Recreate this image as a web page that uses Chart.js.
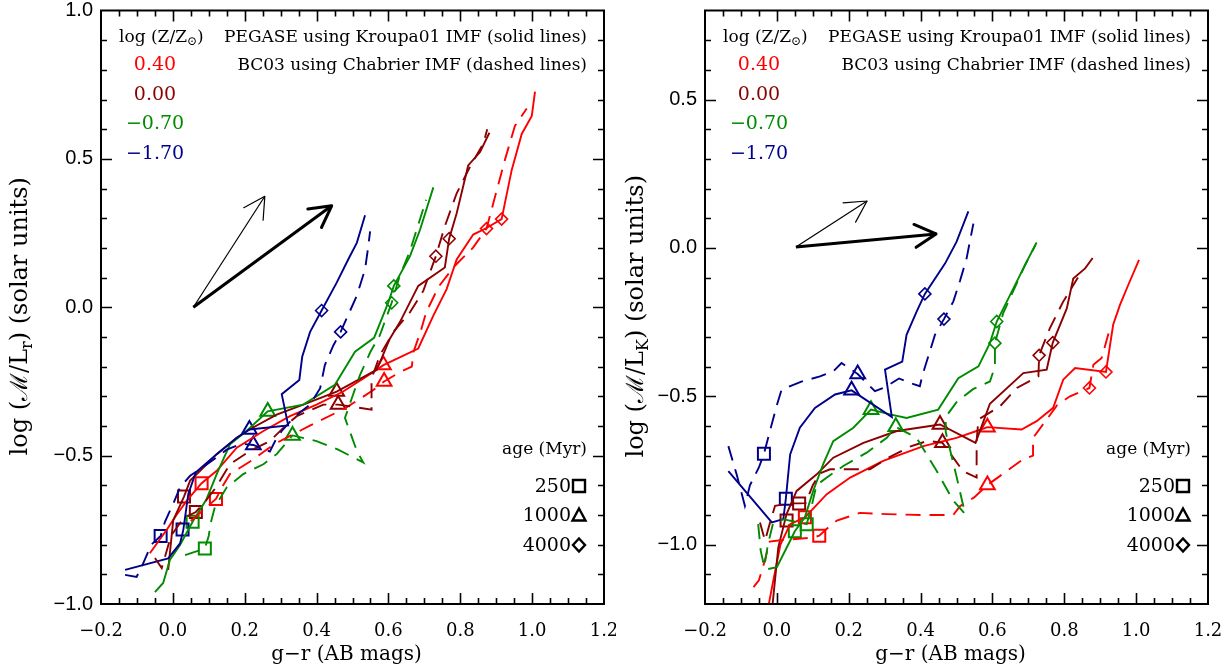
<!DOCTYPE html>
<html><head><meta charset="utf-8">
<script src="https://cdn.jsdelivr.net/npm/chart.js@4.4.1/dist/chart.umd.min.js"></script>
<style>
html,body{margin:0;padding:0;background:#fff;}
#wrap{position:relative;width:1232px;height:668px;overflow:hidden;}
canvas{position:absolute;top:0;}
</style></head><body>
<div id="wrap"><canvas id="cL" width="616" height="668" style="left:0"></canvas><canvas id="cR" width="616" height="668" style="left:616px"></canvas></div>
<script>
// ---------- tick labels / categories ----------
const xTicks  = [-0.2, 0.0, 0.2, 0.4, 0.6, 0.8, 1.0, 1.2];
const yTicksL = [-1.0, -0.5, 0.0, 0.5, 1.0];
const yTicksR = [-1.0, -0.5, 0.0, 0.5];
const metallicities = ['0.40', '0.00', '\u22120.70', '\u22121.70'];
const ageLabels = ['250', '1000', '4000'];

// ---------- LEFT panel: log(M/L_r) vs g-r ----------
const L_red_solid = [[-0.064,-0.829],[-0.017,-0.75],[0.01,-0.70],[0.04,-0.65],[0.080,-0.593],[0.122,-0.551],[0.178,-0.473],[0.252,-0.417],[0.326,-0.367],[0.400,-0.328],[0.474,-0.284],[0.567,-0.211],[0.586,-0.195],[0.683,-0.139],[0.725,-0.028],[0.762,0.061],[0.790,0.161],[0.836,0.245],[0.873,0.267],[0.915,0.297],[0.943,0.462],[0.971,0.584],[0.999,0.645],[1.008,0.727]];
const L_red_dash = [[0.05,-0.72],[0.120,-0.646],[0.14,-0.60],[0.159,-0.562],[0.215,-0.52],[0.284,-0.46],[0.38,-0.40],[0.48,-0.34],[0.557,-0.28],[0.588,-0.25],[0.63,-0.22],[0.665,-0.20],[0.67,-0.15],[0.69,-0.08],[0.705,-0.017],[0.74,0.07],[0.785,0.14],[0.835,0.20],[0.873,0.265],[0.897,0.374],[0.925,0.50],[0.952,0.611],[0.985,0.67]];
const L_dred_solid = [[-0.013,-0.885],[0.001,-0.718],[0.031,-0.638],[0.048,-0.584],[0.076,-0.551],[0.122,-0.495],[0.178,-0.440],[0.213,-0.412],[0.289,-0.362],[0.363,-0.328],[0.456,-0.284],[0.567,-0.211],[0.581,-0.172],[0.604,-0.106],[0.632,-0.05],[0.683,0.072],[0.757,0.134],[0.769,0.231],[0.79,0.317],[0.822,0.478],[0.855,0.523],[0.881,0.588]];
const L_dred_dash = [[-0.050,-0.845],[-0.031,-0.879],[-0.005,-0.77],[0.03,-0.71],[0.064,-0.690],[0.09,-0.655],[0.117,-0.612],[0.159,-0.529],[0.215,-0.484],[0.270,-0.451],[0.317,-0.395],[0.345,-0.367],[0.419,-0.328],[0.460,-0.328],[0.50,-0.335],[0.553,-0.345],[0.553,-0.24],[0.577,-0.16],[0.614,-0.083],[0.660,-0.017],[0.697,0.055],[0.732,0.172],[0.757,0.273],[0.790,0.384],[0.827,0.473],[0.864,0.551],[0.875,0.60]];
const L_green_solid = [[-0.050,-0.960],[-0.027,-0.929],[-0.008,-0.851],[0.020,-0.801],[0.055,-0.723],[0.094,-0.646],[0.122,-0.562],[0.159,-0.462],[0.205,-0.417],[0.264,-0.351],[0.363,-0.328],[0.451,-0.261],[0.507,-0.150],[0.560,-0.103],[0.600,0.017],[0.615,0.072],[0.660,0.172],[0.688,0.261],[0.725,0.404]];
const L_green_dash = [[0.034,-0.835],[0.089,-0.813],[0.100,-0.77],[0.105,-0.729],[0.117,-0.673],[0.150,-0.607],[0.196,-0.562],[0.252,-0.529],[0.289,-0.495],[0.333,-0.432],[0.400,-0.451],[0.46,-0.48],[0.530,-0.523],[0.512,-0.484],[0.479,-0.373],[0.50,-0.30],[0.521,-0.228],[0.55,-0.15],[0.576,-0.095],[0.609,0.015],[0.63,0.10],[0.66,0.19],[0.705,0.362]];
const L_blue_solid = [[-0.133,-0.885],[-0.013,-0.846],[0.020,-0.796],[0.029,-0.751],[0.043,-0.629],[0.064,-0.556],[0.122,-0.495],[0.178,-0.440],[0.213,-0.412],[0.321,-0.398],[0.303,-0.293],[0.352,-0.245],[0.360,-0.167],[0.382,-0.083],[0.414,-0.011],[0.456,0.083],[0.488,0.161],[0.512,0.217],[0.535,0.31]];
const L_blue_dash = [[-0.133,-0.902],[-0.101,-0.909],[-0.085,-0.87],[-0.06,-0.80],[-0.034,-0.771],[-0.022,-0.723],[0.001,-0.662],[0.020,-0.607],[0.048,-0.568],[0.10,-0.525],[0.15,-0.48],[0.19,-0.46],[0.224,-0.464],[0.270,-0.486],[0.285,-0.45],[0.303,-0.417],[0.335,-0.373],[0.382,-0.328],[0.410,-0.273],[0.423,-0.195],[0.447,-0.128],[0.467,-0.083],[0.512,0.039],[0.535,0.128],[0.544,0.206],[0.549,0.256]];
// age markers (250, 1000, 4000 Myr)
const L_red_solid_age  = [[0.080,-0.593],[0.586,-0.195],[0.915,0.297]];
const L_red_dash_age   = [[0.120,-0.646],[0.588,-0.250],[0.873,0.265]];
const L_dred_solid_age = [[0.031,-0.638],[0.456,-0.284],[0.769,0.231]];
const L_dred_dash_age  = [[0.064,-0.690],[0.460,-0.328],[0.732,0.172]];
const L_green_solid_age= [[0.055,-0.723],[0.264,-0.351],[0.615,0.072]];
const L_green_dash_age = [[0.089,-0.813],[0.333,-0.432],[0.609,0.015]];
const L_blue_solid_age = [[0.027,-0.749],[0.213,-0.412],[0.414,-0.011]];
const L_blue_dash_age  = [[-0.034,-0.771],[0.224,-0.464],[0.467,-0.083]];
const L_vec_thin  = [[0.057,0.0],[0.256,0.374]];
const L_vec_thick = [[0.057,0.0],[0.442,0.342]];

// ---------- RIGHT panel: log(M/L_K) vs g-r ----------
const R_red_solid = [[-0.03,-1.25],[-0.010,-1.121],[0.01,-1.0],[0.037,-0.931],[0.078,-0.908],[0.139,-0.830],[0.204,-0.774],[0.296,-0.718],[0.408,-0.668],[0.500,-0.640],[0.556,-0.617],[0.586,-0.604],[0.681,-0.612],[0.723,-0.584],[0.769,-0.539],[0.797,-0.444],[0.830,-0.405],[0.916,-0.418],[0.936,-0.259],[0.955,-0.192],[0.978,-0.125],[1.008,-0.04]];
const R_red_dash = [[-0.065,-1.143],[-0.05,-1.12],[-0.035,-1.06],[-0.02,-0.99],[0.01,-0.985],[0.10,-0.976],[0.118,-0.970],[0.145,-0.94],[0.167,-0.919],[0.231,-0.893],[0.306,-0.897],[0.40,-0.90],[0.491,-0.900],[0.51,-0.87],[0.55,-0.84],[0.586,-0.799],[0.64,-0.752],[0.686,-0.712],[0.713,-0.70],[0.713,-0.64],[0.75,-0.58],[0.78,-0.53],[0.816,-0.50],[0.870,-0.472],[0.881,-0.394],[0.904,-0.371],[0.925,-0.28]];
const R_dred_solid = [[-0.016,-1.25],[0.004,-1.009],[0.027,-0.897],[0.055,-0.819],[0.111,-0.763],[0.157,-0.707],[0.241,-0.657],[0.334,-0.617],[0.454,-0.595],[0.553,-0.657],[0.593,-0.525],[0.686,-0.422],[0.751,-0.410],[0.768,-0.319],[0.807,-0.204],[0.825,-0.103],[0.858,-0.069],[0.879,-0.034]];
const R_dred_dash = [[-0.047,-0.925],[-0.033,-0.987],[-0.02,-0.93],[-0.005,-0.869],[0.037,-0.861],[0.062,-0.861],[0.08,-0.86],[0.10,-0.80],[0.12,-0.76],[0.148,-0.746],[0.259,-0.746],[0.306,-0.71],[0.37,-0.67],[0.42,-0.65],[0.461,-0.657],[0.518,-0.752],[0.556,-0.774],[0.556,-0.65],[0.561,-0.578],[0.621,-0.534],[0.668,-0.472],[0.728,-0.433],[0.730,-0.362],[0.76,-0.27],[0.797,-0.181],[0.838,-0.10]];
const R_green_solid = [[-0.024,-1.082],[0.0,-1.076],[0.037,-0.987],[0.050,-0.955],[0.078,-0.908],[0.101,-0.819],[0.129,-0.729],[0.157,-0.651],[0.213,-0.606],[0.262,-0.545],[0.315,-0.561],[0.361,-0.573],[0.449,-0.545],[0.505,-0.439],[0.561,-0.399],[0.593,-0.321],[0.612,-0.248],[0.649,-0.159],[0.695,-0.047],[0.723,0.018]];
const R_green_dash = [[-0.052,-0.931],[-0.045,-1.02],[-0.035,-1.075],[-0.025,-1.0],[-0.01,-0.925],[0.02,-0.915],[0.083,-0.931],[0.095,-0.88],[0.11,-0.80],[0.139,-0.774],[0.185,-0.735],[0.250,-0.690],[0.306,-0.640],[0.331,-0.603],[0.389,-0.640],[0.445,-0.752],[0.491,-0.852],[0.524,-0.897],[0.50,-0.77],[0.47,-0.62],[0.47,-0.57],[0.50,-0.52],[0.546,-0.476],[0.593,-0.45],[0.607,-0.40],[0.607,-0.321],[0.63,-0.22],[0.66,-0.14],[0.69,-0.06],[0.72,0.01]];
const R_blue_solid = [[-0.135,-0.752],[-0.014,-0.925],[0.018,-0.914],[0.025,-0.845],[0.037,-0.696],[0.064,-0.606],[0.106,-0.539],[0.162,-0.494],[0.208,-0.480],[0.320,-0.570],[0.301,-0.410],[0.349,-0.383],[0.361,-0.293],[0.389,-0.215],[0.412,-0.155],[0.468,-0.053],[0.500,0.020],[0.533,0.123]];
const R_blue_dash = [[-0.135,-0.668],[-0.112,-0.763],[-0.089,-0.869],[-0.075,-0.80],[-0.05,-0.74],[-0.036,-0.694],[-0.02,-0.62],[0.0,-0.53],[0.013,-0.478],[0.07,-0.45],[0.12,-0.433],[0.157,-0.416],[0.180,-0.388],[0.225,-0.425],[0.273,-0.483],[0.30,-0.47],[0.34,-0.44],[0.37,-0.455],[0.398,-0.466],[0.405,-0.43],[0.417,-0.383],[0.440,-0.293],[0.465,-0.240],[0.491,-0.181],[0.51,-0.11],[0.528,-0.036],[0.547,0.082]];
const R_red_solid_age  = [[0.078,-0.908],[0.586,-0.604],[0.916,-0.418]];
const R_red_dash_age   = [[0.118,-0.970],[0.586,-0.799],[0.870,-0.472]];
const R_dred_solid_age = [[0.027,-0.919],[0.454,-0.595],[0.768,-0.319]];
const R_dred_dash_age  = [[0.062,-0.861],[0.461,-0.657],[0.730,-0.362]];
const R_green_solid_age= [[0.050,-0.955],[0.262,-0.545],[0.612,-0.248]];
const R_green_dash_age = [[0.083,-0.931],[0.331,-0.603],[0.607,-0.321]];
const R_blue_solid_age = [[0.025,-0.845],[0.208,-0.480],[0.412,-0.155]];
const R_blue_dash_age  = [[-0.036,-0.694],[0.225,-0.425],[0.465,-0.240]];
const R_vec_thin  = [[0.053,0.003],[0.251,0.158]];
const R_vec_thick = [[0.053,0.003],[0.443,0.047]];

// ---------- styles ----------
const COL = {red:'#ff0000', dred:'#8b0000', green:'#008b00', blue:'#00008b'};
const metalColors = [COL.red, COL.dred, COL.green, COL.blue];
const SERIF = "'DejaVu Serif', serif";
const SANS = "'Liberation Sans', Arial, sans-serif";
const DASH = [15, 9];
const ageStyles = ['rect', 'triangle', 'rectRot'];
const ageRadius = [8.5, 8.5, 6];
const ageBorder = [2, 2, 1.6];

const fmt = v => (v < 0 ? '\u2212' : '') + Math.abs(v).toFixed(1);
const pts = a => a.map(p => ({x: p[0], y: p[1]}));

function curve(a, color, dashed) {
  return {data: pts(a), showLine: true, borderColor: color, borderWidth: 1.9,
    borderDash: dashed ? DASH : [], pointRadius: 0, pointHoverRadius: 0, tension: 0, fill: false};
}
function ages(a, color) {
  return {data: pts(a), showLine: false, pointStyle: ageStyles, pointRadius: ageRadius,
    pointBorderWidth: ageBorder, pointBorderColor: color, pointBackgroundColor: 'rgba(0,0,0,0)'};
}
function vector(a, w) {
  return {data: pts(a), showLine: true, borderColor: '#000', borderWidth: w, pointRadius: 0, isVector: true};
}

function panelDatasets(P) {
  return [
    curve(P.blue_dash, COL.blue, true), curve(P.green_dash, COL.green, true),
    curve(P.dred_dash, COL.dred, true), curve(P.red_dash, COL.red, true),
    curve(P.blue_solid, COL.blue, false), curve(P.green_solid, COL.green, false),
    curve(P.dred_solid, COL.dred, false), curve(P.red_solid, COL.red, false),
    ages(P.blue_dash_age, COL.blue), ages(P.blue_solid_age, COL.blue),
    ages(P.green_dash_age, COL.green), ages(P.green_solid_age, COL.green),
    ages(P.dred_dash_age, COL.dred), ages(P.dred_solid_age, COL.dred),
    ages(P.red_dash_age, COL.red), ages(P.red_solid_age, COL.red),
    vector(P.vec_thin, 1.2), vector(P.vec_thick, 3)
  ];
}

function drawRich(ctx, parts, size, align) {
  const big = `${size}px ${SERIF}`, small = `${Math.round(size * 0.68)}px ${SERIF}`;
  let w = 0;
  parts.forEach(([t, sub]) => { ctx.font = sub ? small : big; w += ctx.measureText(t).width; });
  let x = align === 'center' ? -w / 2 : 0;
  ctx.textAlign = 'left'; ctx.textBaseline = 'middle';
  parts.forEach(([t, sub]) => {
    ctx.font = sub ? small : big;
    ctx.fillText(t, x, sub ? size * 0.28 : 0);
    x += ctx.measureText(t).width;
  });
}

// draws frame, inward ticks, titles, legends, vector heads
const decor = {
  id: 'decor',
  afterDatasetsDraw(chart, args, o) {
    const {ctx, chartArea: a} = chart;
    const xs = chart.scales.x, ys = chart.scales.y;
    ctx.save();
    chart.data.datasets.forEach((ds, i) => {
      if (!ds.isVector) return;
      const m = chart.getDatasetMeta(i).data;
      const p0 = m[0], p1 = m[1];
      const ang = Math.atan2(p1.y - p0.y, p1.x - p0.x);
      ctx.strokeStyle = '#000'; ctx.lineWidth = ds.borderWidth; ctx.lineCap = 'round';
      ctx.beginPath();
      for (const s of [-1, 1]) {
        const t = ang + Math.PI + s * 0.5;
        ctx.moveTo(p1.x, p1.y);
        ctx.lineTo(p1.x + 24 * Math.cos(t), p1.y + 24 * Math.sin(t));
      }
      ctx.stroke();
    });
    ctx.strokeStyle = '#000'; ctx.lineWidth = 2; ctx.lineCap = 'butt';
    ctx.strokeRect(a.left, a.top, a.right - a.left, a.bottom - a.top);
    ctx.lineWidth = 1.6;
    ctx.beginPath();
    const nx = Math.round((xs.max - xs.min) / o.xMinor);
    for (let i = 1; i < nx; i++) {
      const v = xs.min + i * o.xMinor;
      const major = Math.abs(v / o.xMajor - Math.round(v / o.xMajor)) < 1e-6;
      const L = major ? 11 : 6, px = Math.round(xs.getPixelForValue(v)) + 0.5;
      ctx.moveTo(px, a.bottom); ctx.lineTo(px, a.bottom - L);
      ctx.moveTo(px, a.top); ctx.lineTo(px, a.top + L);
    }
    const ny = Math.round((ys.max - ys.min) / o.yMinor);
    for (let i = 1; i < ny; i++) {
      const v = ys.min + i * o.yMinor;
      const major = Math.abs(v / o.yMajor - Math.round(v / o.yMajor)) < 1e-6;
      const L = major ? 11 : 6, py = Math.round(ys.getPixelForValue(v)) + 0.5;
      ctx.moveTo(a.left, py); ctx.lineTo(a.left + L, py);
      ctx.moveTo(a.right, py); ctx.lineTo(a.right - L, py);
    }
    ctx.stroke();
    ctx.restore();
  },
  afterDraw(chart, args, o) {
    const {ctx, chartArea: a} = chart;
    ctx.save();
    ctx.fillStyle = '#000';
    ctx.textBaseline = 'middle';
    ctx.font = `20px ${SERIF}`; ctx.textAlign = 'center';
    ctx.fillText('g\u2212r (AB mags)', (a.left + a.right) / 2 - 6, a.bottom + 51);
    ctx.translate(a.left + o.yTitleDx, (a.top + a.bottom) / 2 + 9);
    ctx.rotate(-Math.PI / 2);
    drawRich(ctx, [['log (\u2133/L', 0], [o.band, 1], [') (solar units)', 0]], 24, 'center');
    ctx.restore();

    ctx.save();
    ctx.fillStyle = '#000';
    ctx.translate(a.left + 18, a.top + 27);
    drawRich(ctx, [['log (Z/Z', 0], ['\u2299', 1], [')', 0]], 17, 'left');
    ctx.restore();

    ctx.save();
    ctx.textBaseline = 'middle';
    ctx.font = `17px ${SERIF}`; ctx.textAlign = 'right'; ctx.fillStyle = '#000';
    ctx.fillText('PEGASE using Kroupa01 IMF (solid lines)', a.right - 17, a.top + 27);
    ctx.fillText('BC03 using Chabrier IMF (dashed lines)', a.right - 17, a.top + 55);
    ctx.font = `19px ${SERIF}`; ctx.textAlign = 'center';
    metallicities.forEach((m, i) => {
      ctx.fillStyle = metalColors[i];
      ctx.fillText(m, a.left + 54, a.top + 55 + i * 29.5);
    });
    ctx.fillStyle = '#000';
    ctx.font = `17px ${SERIF}`; ctx.textAlign = 'right';
    ctx.fillText('age (Myr)', a.right - 17, a.bottom - 154);
    ctx.font = `19px ${SERIF}`;
    const mx = a.right - 25;
    ageLabels.forEach((t, i) => {
      const yy = a.bottom - 118 + i * 29.5;
      ctx.fillText(t, a.right - 33, yy + 1);
      ctx.strokeStyle = '#000'; ctx.lineWidth = 2.4;
      ctx.beginPath();
      if (i === 0) ctx.rect(mx - 6, yy - 6, 12, 12);
      else if (i === 1) { ctx.moveTo(mx, yy - 7); ctx.lineTo(mx + 6.5, yy + 5); ctx.lineTo(mx - 6.5, yy + 5); ctx.closePath(); }
      else { ctx.moveTo(mx, yy - 6.5); ctx.lineTo(mx + 6, yy); ctx.lineTo(mx, yy + 6.5); ctx.lineTo(mx - 6, yy); ctx.closePath(); }
      ctx.stroke();
    });
    ctx.restore();
  }
};

function noPad(s) { s.paddingLeft = 0; s.paddingRight = 0; s.paddingTop = 0; s.paddingBottom = 0; }

function makeChart(id, P, yMin, yMax, yTicks, yWidth, padRight, band, yTitleDx) {
  return new Chart(document.getElementById(id), {
    type: 'scatter',
    data: {datasets: panelDatasets(P)},
    plugins: [decor],
    options: {
      responsive: false, animation: false, devicePixelRatio: 1,
      layout: {padding: {left: 0, top: 5, right: padRight, bottom: 0}},
      plugins: {legend: {display: false}, tooltip: {enabled: false},
        decor: {xMinor: 0.05, xMajor: 0.2, yMinor: 0.1, yMajor: 0.5, band: band, yTitleDx: yTitleDx}},
      scales: {
        x: {type: 'linear', min: -0.2, max: 1.2,
          afterBuildTicks: s => { s.ticks = xTicks.map(v => ({value: v})); },
          afterFit: s => { s.height = 64; noPad(s); },
          grid: {display: false, drawTicks: false}, border: {display: false},
          ticks: {font: {family: SERIF, size: 18}, color: '#000', padding: 17, maxRotation: 0, autoSkip: false, callback: fmt}},
        y: {type: 'linear', min: yMin, max: yMax,
          afterBuildTicks: s => { s.ticks = yTicks.map(v => ({value: v})); },
          afterFit: s => { s.width = yWidth; noPad(s); },
          grid: {display: false, drawTicks: false}, border: {display: false},
          ticks: {font: {family: SANS, size: 20}, color: '#000', padding: 8, autoSkip: false, callback: fmt}}
      }
    }
  });
}

const PL = {red_solid: L_red_solid, red_dash: L_red_dash, dred_solid: L_dred_solid, dred_dash: L_dred_dash,
  green_solid: L_green_solid, green_dash: L_green_dash, blue_solid: L_blue_solid, blue_dash: L_blue_dash,
  red_solid_age: L_red_solid_age, red_dash_age: L_red_dash_age, dred_solid_age: L_dred_solid_age, dred_dash_age: L_dred_dash_age,
  green_solid_age: L_green_solid_age, green_dash_age: L_green_dash_age, blue_solid_age: L_blue_solid_age, blue_dash_age: L_blue_dash_age,
  vec_thin: L_vec_thin, vec_thick: L_vec_thick};
const PR = {red_solid: R_red_solid, red_dash: R_red_dash, dred_solid: R_dred_solid, dred_dash: R_dred_dash,
  green_solid: R_green_solid, green_dash: R_green_dash, blue_solid: R_blue_solid, blue_dash: R_blue_dash,
  red_solid_age: R_red_solid_age, red_dash_age: R_red_dash_age, dred_solid_age: R_dred_solid_age, dred_dash_age: R_dred_dash_age,
  green_solid_age: R_green_solid_age, green_dash_age: R_green_dash_age, blue_solid_age: R_blue_solid_age, blue_dash_age: R_blue_dash_age,
  vec_thin: R_vec_thin, vec_thick: R_vec_thick};

makeChart('cL', PL, -1.0, 1.0, yTicksL, 101, 12, 'r', -80);
makeChart('cR', PR, -1.2, 0.8, yTicksR, 89, 24, 'K', -68);
</script>
</body></html>
